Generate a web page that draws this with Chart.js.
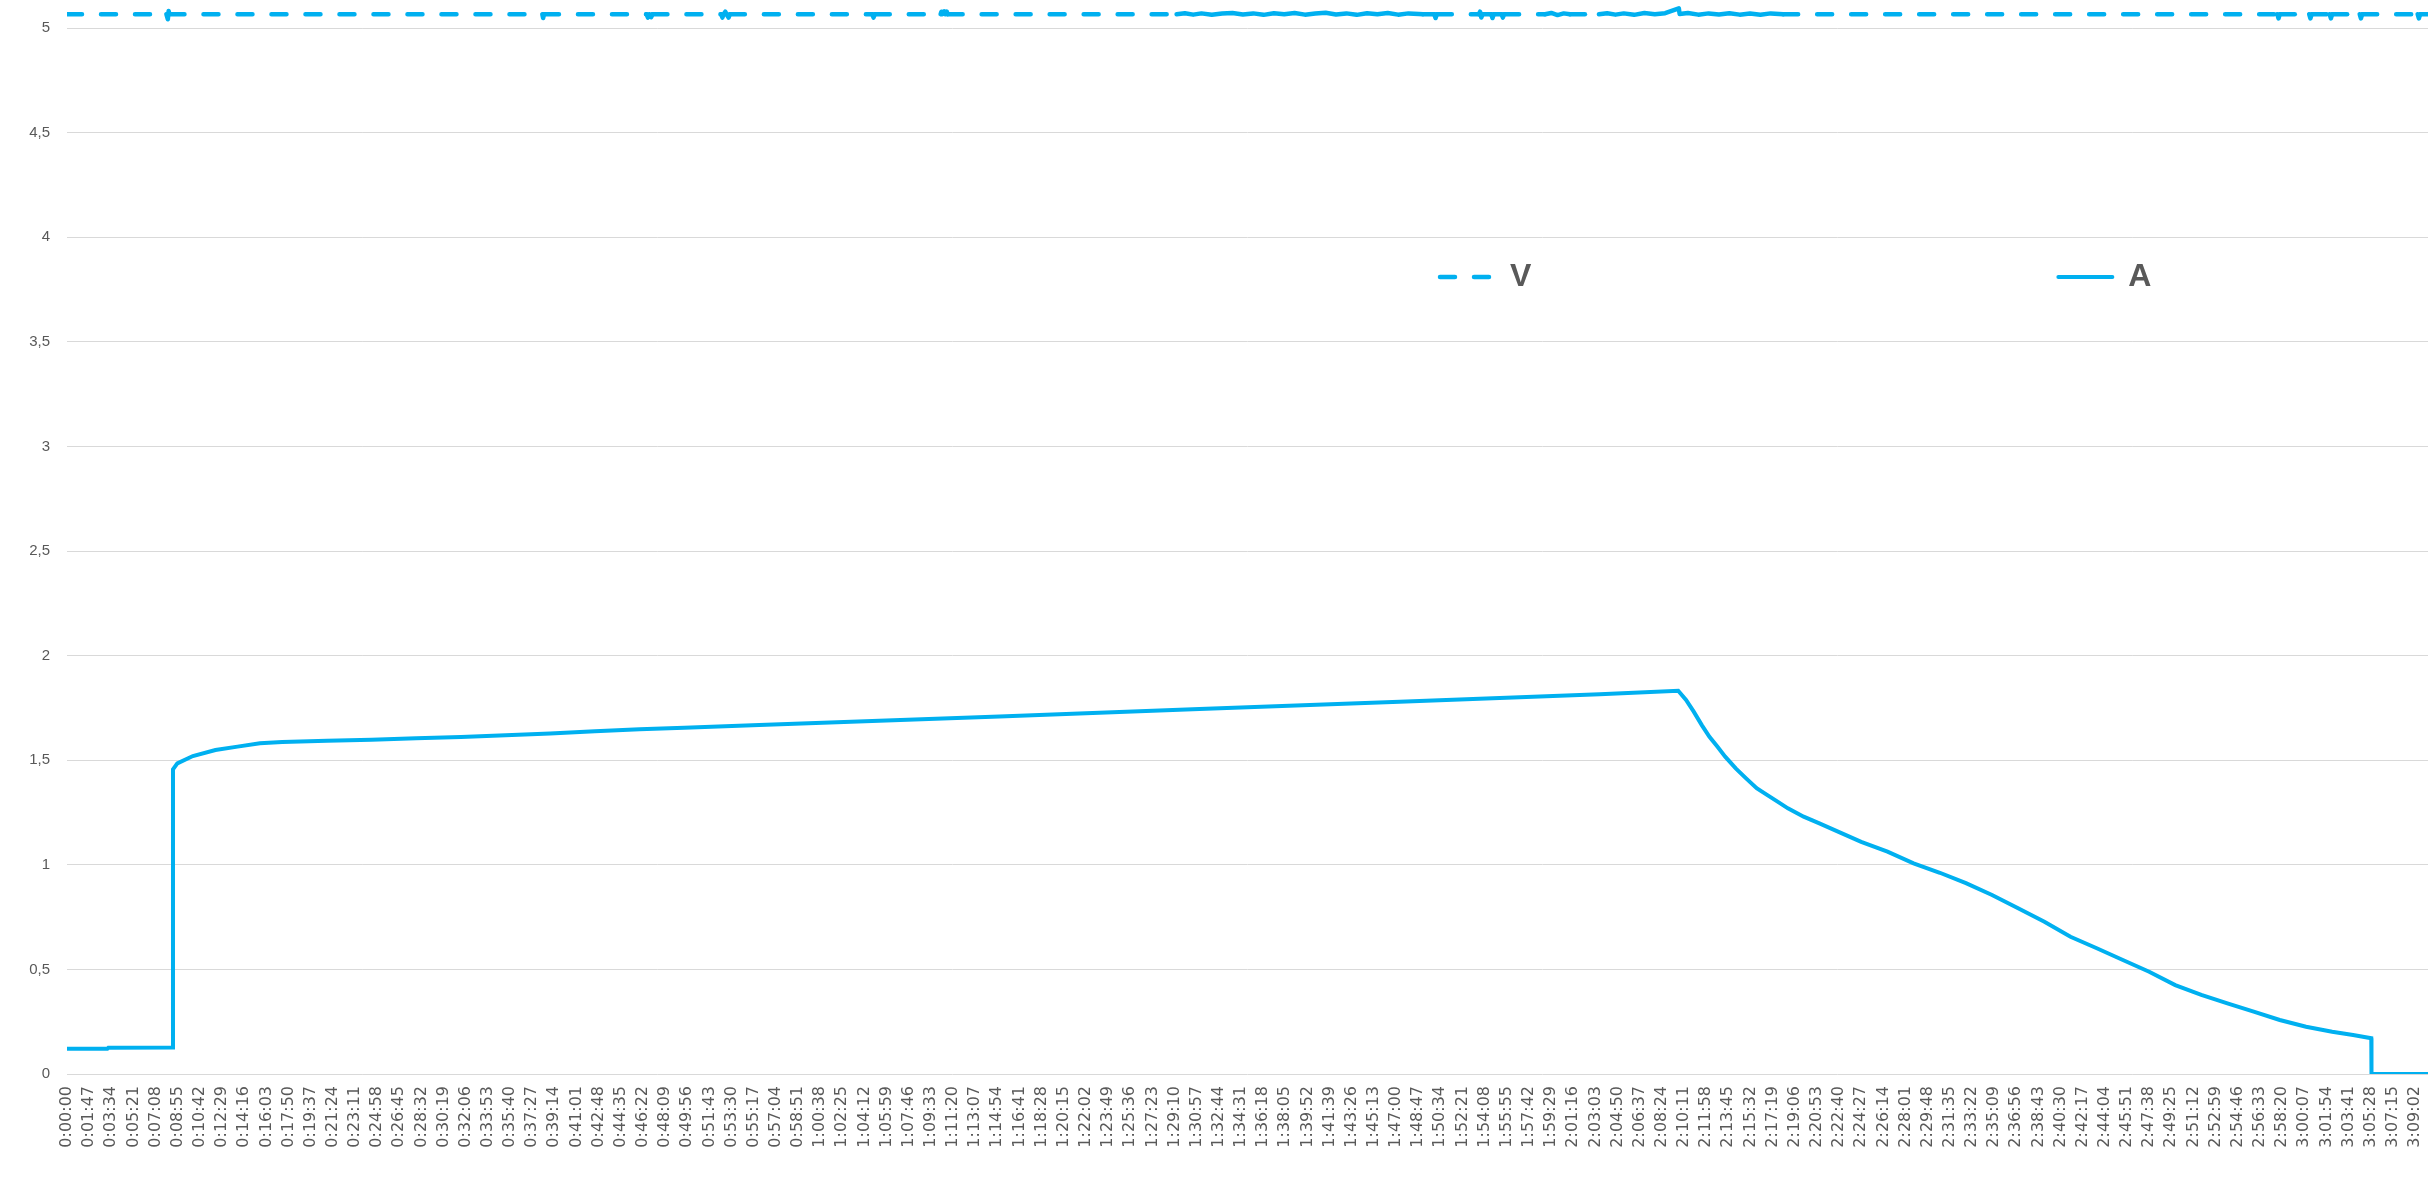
<!DOCTYPE html>
<html>
<head>
<meta charset="utf-8">
<script src="https://cdn.jsdelivr.net/npm/chart.js@4.4.1/dist/chart.umd.min.js"></script>
<style>
html,body{margin:0;padding:0;background:#ffffff;}
#wrap{width:2428px;height:1177px;position:relative;}
</style>
</head>
<body>
<div id="wrap"><canvas id="c"></canvas></div>
<script>
// ---------- data ----------
const seriesLabels = ['V', 'A'];

const xTickLabels = [
'0:00:00','0:01:47','0:03:34','0:05:21','0:07:08','0:08:55','0:10:42','0:12:29','0:14:16','0:16:03',
'0:17:50','0:19:37','0:21:24','0:23:11','0:24:58','0:26:45','0:28:32','0:30:19','0:32:06','0:33:53',
'0:35:40','0:37:27','0:39:14','0:41:01','0:42:48','0:44:35','0:46:22','0:48:09','0:49:56','0:51:43',
'0:53:30','0:55:17','0:57:04','0:58:51','1:00:38','1:02:25','1:04:12','1:05:59','1:07:46','1:09:33',
'1:11:20','1:13:07','1:14:54','1:16:41','1:18:28','1:20:15','1:22:02','1:23:49','1:25:36','1:27:23',
'1:29:10','1:30:57','1:32:44','1:34:31','1:36:18','1:38:05','1:39:52','1:41:39','1:43:26','1:45:13',
'1:47:00','1:48:47','1:50:34','1:52:21','1:54:08','1:55:55','1:57:42','1:59:29','2:01:16','2:03:03',
'2:04:50','2:06:37','2:08:24','2:10:11','2:11:58','2:13:45','2:15:32','2:17:19','2:19:06','2:20:53',
'2:22:40','2:24:27','2:26:14','2:28:01','2:29:48','2:31:35','2:33:22','2:35:09','2:36:56','2:38:43',
'2:40:30','2:42:17','2:44:04','2:45:51','2:47:38','2:49:25','2:51:12','2:52:59','2:54:46','2:56:33',
'2:58:20','3:00:07','3:01:54','3:03:41','3:05:28','3:07:15','3:09:02'
];

// A (current) : time in seconds, value in amperes
const aTime = [0, 195, 200, 511, 512, 533, 608, 717, 824, 932, 1040, 1256, 1471, 1687, 1903, 2119, 2334, 2550, 2766, 2982,
  3344, 4504, 5470, 6437, 7404, 7783, 7821, 7858, 7897, 7934, 7972, 8010, 8061, 8111, 8162, 8212, 8263, 8313, 8389, 8465,
  8566, 8667, 8794, 8920, 9047, 9173, 9299, 9425, 9552, 9678, 9805, 9931, 10058, 10184, 10310, 10436, 10563, 10689, 10816, 10942,
  11043, 11131, 11132, 11405];
const aAmp = [0.121, 0.121, 0.126, 0.127, 1.456, 1.485, 1.520, 1.549, 1.565, 1.581, 1.587, 1.593, 1.598, 1.605, 1.611, 1.619, 1.628, 1.638, 1.648, 1.655,
  1.668, 1.709, 1.745, 1.780, 1.815, 1.832, 1.788, 1.732, 1.668, 1.612, 1.565, 1.517, 1.461, 1.413, 1.366, 1.334, 1.302, 1.270, 1.230, 1.198,
  1.154, 1.110, 1.063, 1.007, 0.962, 0.912, 0.856, 0.792, 0.728, 0.656, 0.601, 0.545, 0.489, 0.425, 0.378, 0.338, 0.298, 0.258, 0.226, 0.202,
  0.186, 0.171, 0, 0];

// V (voltage) : time in seconds, value in volts
const vTime = [0, 480, 487, 491, 495, 2296, 2300, 2304, 2800, 2806, 2812, 2822, 2828, 3160, 3166, 3172, 3180, 3186, 3196, 3202,
  3890, 3896, 3902, 4220, 4224, 4228, 4238, 4242, 4250, 4254,
  5360, 5400, 5440, 5480, 5530, 5580, 5630, 5680, 5730, 5780, 5830, 5880, 5930, 5980, 6030, 6080, 6130, 6180, 6230, 6280,
  6330, 6380, 6430, 6480, 6530, 6550,
  6605, 6611, 6617, 6820, 6826, 6832, 6838, 6880, 6886, 6892, 6930, 6936, 6942,
  7140, 7170, 7200, 7230, 7260, 7400, 7440, 7480, 7520, 7570, 7620, 7670, 7720, 7786, 7790, 7830, 7880, 7930, 7980, 8030,
  8080, 8130, 8180, 8230, 8290,
  10677, 10683, 10689, 10831, 10837, 10843, 10930, 10936, 10942, 11075, 11081, 11087, 11355, 11361, 11367, 11405];
const vVolt = [5.066, 5.066, 5.042, 5.081, 5.066, 5.066, 5.048, 5.066, 5.066, 5.050, 5.066, 5.052, 5.066, 5.066, 5.050, 5.066, 5.078, 5.066, 5.050, 5.066,
  5.066, 5.050, 5.066, 5.066, 5.078, 5.066, 5.080, 5.066, 5.078, 5.066,
  5.066, 5.071, 5.064, 5.070, 5.063, 5.069, 5.072, 5.065, 5.070, 5.063, 5.071, 5.066, 5.072, 5.064, 5.069, 5.073, 5.065, 5.070, 5.063, 5.071,
  5.066, 5.072, 5.064, 5.070, 5.067, 5.066,
  5.066, 5.048, 5.066, 5.066, 5.078, 5.050, 5.066, 5.066, 5.048, 5.066, 5.066, 5.050, 5.066,
  5.066, 5.072, 5.062, 5.070, 5.066, 5.066, 5.071, 5.064, 5.070, 5.063, 5.072, 5.066, 5.071, 5.094, 5.067, 5.072, 5.064, 5.070, 5.065, 5.071,
  5.064, 5.069, 5.063, 5.070, 5.066,
  5.066, 5.046, 5.066, 5.066, 5.046, 5.066, 5.066, 5.046, 5.066, 5.066, 5.046, 5.066, 5.066, 5.046, 5.066, 5.066];

const xMin = 0, xMax = 11405;
const yMin = 0, yMax = 5.134, yStep = 0.5;

// ---------- styling ----------
const BLUE = '#00B0F0';
const GREY = '#595959';
const GRID = '#D9D9D9';
const V_DASH = [15, 19];

function toSec(s) {
  const p = s.split(':').map(Number);
  return p[0] * 3600 + p[1] * 60 + p[2];
}

// place the (horizontal) legend inside the plot area, as in the reference
function placeLegend(chart) {
  const lg = chart.legend;
  if (!lg) return;
  const P = chart.options.plugins.legend.labels.padding;
  lg.left = 1440 - P;
  lg.right = 6000;
  lg.width = lg.right - lg.left;
  lg.top = 277 - 16 - P;
  lg.bottom = 1177;
  lg.height = lg.bottom - lg.top;
}
const legendPlace = {
  id: 'legendPlace',
  beforeDraw: placeLegend
};

new Chart(document.getElementById('c'), {
  type: 'line',
  data: {
    datasets: [
      {
        label: seriesLabels[0],
        data: vTime.map((t, i) => ({ x: t, y: vVolt[i] })),
        borderColor: BLUE,
        backgroundColor: BLUE,
        borderWidth: 4.5,
        borderDash: V_DASH,
        borderCapStyle: 'round',
        borderJoinStyle: 'round',
        pointRadius: 0,
        tension: 0,
        fill: false,
        segment: {
          borderDash: ctx => (ctx.p0.parsed.y === ctx.p1.parsed.y ? V_DASH : [])
        }
      },
      {
        label: seriesLabels[1],
        data: aTime.map((t, i) => ({ x: t, y: aAmp[i] })),
        borderColor: BLUE,
        backgroundColor: BLUE,
        borderWidth: 4,
        pointRadius: 0,
        tension: 0,
        fill: false
      }
    ]
  },
  options: {
    responsive: true,
    maintainAspectRatio: false,
    animation: false,
    devicePixelRatio: 1,
    layout: { padding: { top: -1, left: 0, right: 0, bottom: 0 } },
    plugins: {
      tooltip: { enabled: false },
      legend: {
        position: 'top',
        align: 'start',
        maxHeight: 1,
        labels: {
          padding: 527,
          usePointStyle: true,
          pointStyleWidth: 54,
          font: { family: "'Liberation Sans', Arial, sans-serif", size: 32, weight: 'bold' },
          color: GREY,
          generateLabels: (chart) => [
            { text: seriesLabels[0], strokeStyle: BLUE, fillStyle: BLUE, fontColor: GREY, lineWidth: 4.5,
              lineDash: V_DASH, lineCap: 'round', pointStyle: 'line', hidden: false, datasetIndex: 0 },
            { text: seriesLabels[1], strokeStyle: BLUE, fillStyle: BLUE, fontColor: GREY, lineWidth: 4,
              lineDash: [], lineCap: 'round', pointStyle: 'line', hidden: false, datasetIndex: 1 }
          ]
        }
      }
    },
    scales: {
      x: {
        type: 'linear',
        min: xMin,
        max: xMax,
        grid: { display: false, drawTicks: false },
        border: { display: false },
        afterBuildTicks: (scale) => { scale.ticks = xTickLabels.map(l => ({ value: toSec(l) })); },
        afterFit: (scale) => { scale.height = 103; scale.paddingRight = 0; },
        ticks: {
          autoSkip: false,
          minRotation: 90,
          maxRotation: 90,
          padding: 12,
          color: GREY,
          font: { family: "'DejaVu Sans', sans-serif", size: 16 },
          callback: (value, index) => xTickLabels[index]
        }
      },
      y: {
        type: 'linear',
        min: yMin,
        max: yMax,
        grid: { color: GRID, lineWidth: 1, drawTicks: false },
        border: { display: false },
        afterFit: (scale) => { scale.width = 67; scale.paddingTop = 0; scale.paddingBottom = 0; },
        ticks: {
          stepSize: yStep,
          includeBounds: false,
          padding: 17,
          color: GREY,
          font: { family: "'Liberation Sans', Arial, sans-serif", size: 15 },
          callback: (v) => String(Math.round(v * 10) / 10).replace('.', ',')
        }
      }
    }
  },
  plugins: [legendPlace]
});
</script>
</body>
</html>
